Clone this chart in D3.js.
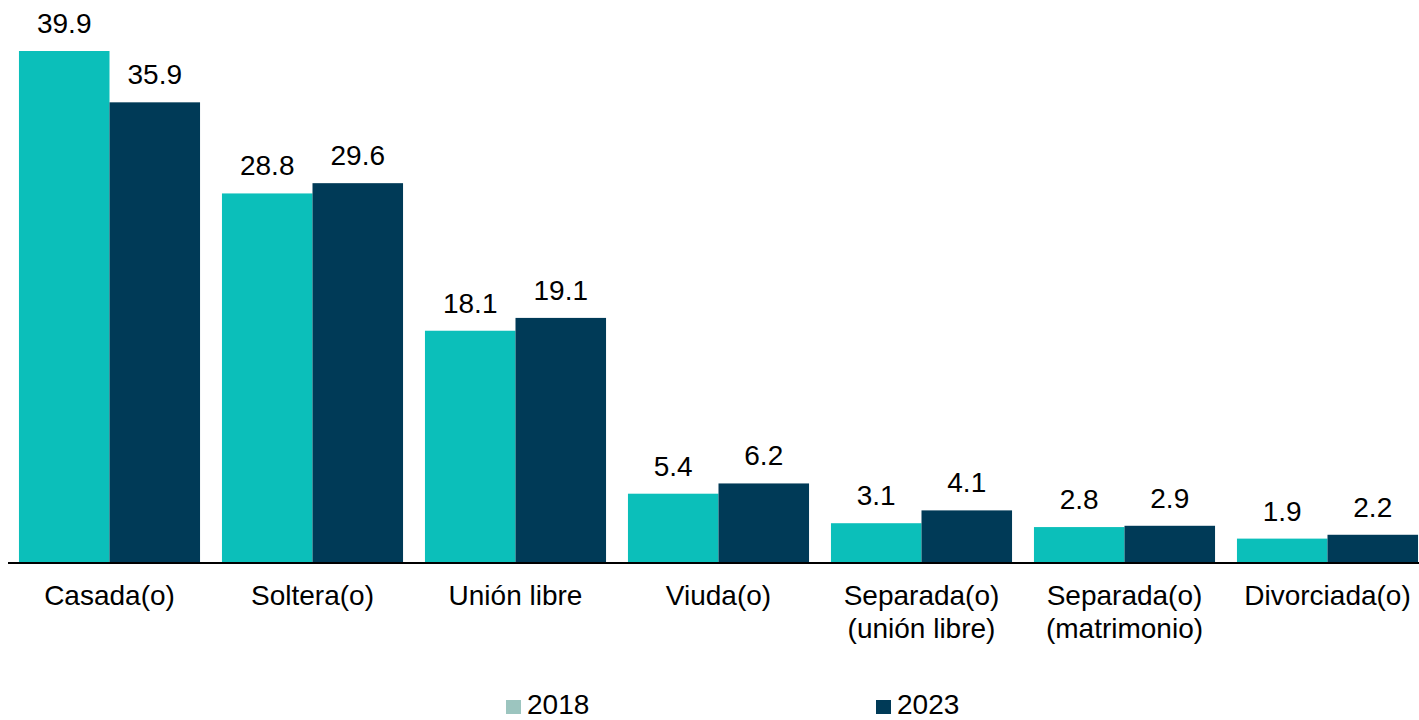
<!DOCTYPE html>
<html>
<head>
<meta charset="utf-8">
<script src="https://cdn.jsdelivr.net/npm/d3@7"></script>
<style>
  body { margin: 0; background: #fff; }
  text { font-family: "Liberation Sans", Arial, sans-serif; fill: #000; }
</style>
</head>
<body>
<div id="chart"></div>
<script>
'use strict';

const categories = ["Casada(o)", "Soltera(o)", "Unión libre", "Viuda(o)",
    "Separada(o)\n(unión libre)", "Separada(o)\n(matrimonio)", "Divorciada(o)"];
const series = ["2018", "2023"];
const values2018 = [39.9, 28.8, 18.1, 5.4, 3.1, 2.8, 1.9];
const values2023 = [35.9, 29.6, 19.1, 6.2, 4.1, 2.9, 2.2];

const width = 1419;
const height = 720;
const baseY = 563;
const fontSize = 28;

const barColor = { "2018": "#0bbfba", "2023": "#003a57" };
const legendColor = { "2018": "#9cc5bf", "2023": "#003a57" };

const data = categories.map((c, i) => ({ cat: c, "2018": values2018[i], "2023": values2023[i] }));

const svg = d3.select("#chart").append("svg")
    .attr("width", width)
    .attr("height", height);

const x0 = d3.scaleBand()
    .domain(categories)
    .range([8, 1429])
    .paddingInner(0.108)
    .paddingOuter(0.054);

const x1 = d3.scaleBand()
    .domain(series)
    .range([0, x0.bandwidth()]);

const y = d3.scaleLinear()
    .domain([0, 39.9])
    .range([baseY, 51]);

const groups = svg.selectAll("g.group")
    .data(data)
    .join("g")
    .attr("class", "group")
    .attr("transform", d => `translate(${x0(d.cat)},0)`);

groups.selectAll("rect")
    .data(d => series.map(s => ({ s, v: d[s] })))
    .join("rect")
    .attr("x", d => x1(d.s))
    .attr("y", d => y(d.v))
    .attr("width", x1.bandwidth())
    .attr("height", d => baseY - y(d.v))
    .attr("fill", d => barColor[d.s]);

groups.selectAll("text.val")
    .data(d => series.map(s => ({ s, v: d[s] })))
    .join("text")
    .attr("class", "val")
    .attr("x", d => x1(d.s) + x1.bandwidth() / 2)
    .attr("y", d => y(d.v) - 18)
    .attr("text-anchor", "middle")
    .attr("font-size", fontSize)
    .text(d => d.v.toFixed(1));

// baseline axis
svg.append("line")
    .attr("x1", 8)
    .attr("x2", width)
    .attr("y1", baseY)
    .attr("y2", baseY)
    .attr("stroke", "#000")
    .attr("stroke-width", 2);

// category labels
const catLabels = svg.selectAll("text.cat")
    .data(categories)
    .join("text")
    .attr("class", "cat")
    .attr("text-anchor", "middle")
    .attr("font-size", fontSize)
    .attr("x", d => x0(d) + x0.bandwidth() / 2)
    .attr("y", 605);

catLabels.selectAll("tspan")
    .data(d => d.split("\n"))
    .join("tspan")
    .attr("x", function () { return d3.select(this.parentNode).attr("x"); })
    .attr("dy", (d, i) => i === 0 ? 0 : 33)
    .text(d => d);

// legend
const legendX = { "2018": 506, "2023": 876 };
const legend = svg.selectAll("g.legend")
    .data(series)
    .join("g")
    .attr("class", "legend")
    .attr("transform", d => `translate(${legendX[d]},700)`);

legend.append("rect")
    .attr("width", 15)
    .attr("height", 14)
    .attr("fill", d => legendColor[d]);

legend.append("text")
    .attr("x", 21)
    .attr("y", 14)
    .attr("font-size", fontSize)
    .text(d => d);
</script>
</body>
</html>
